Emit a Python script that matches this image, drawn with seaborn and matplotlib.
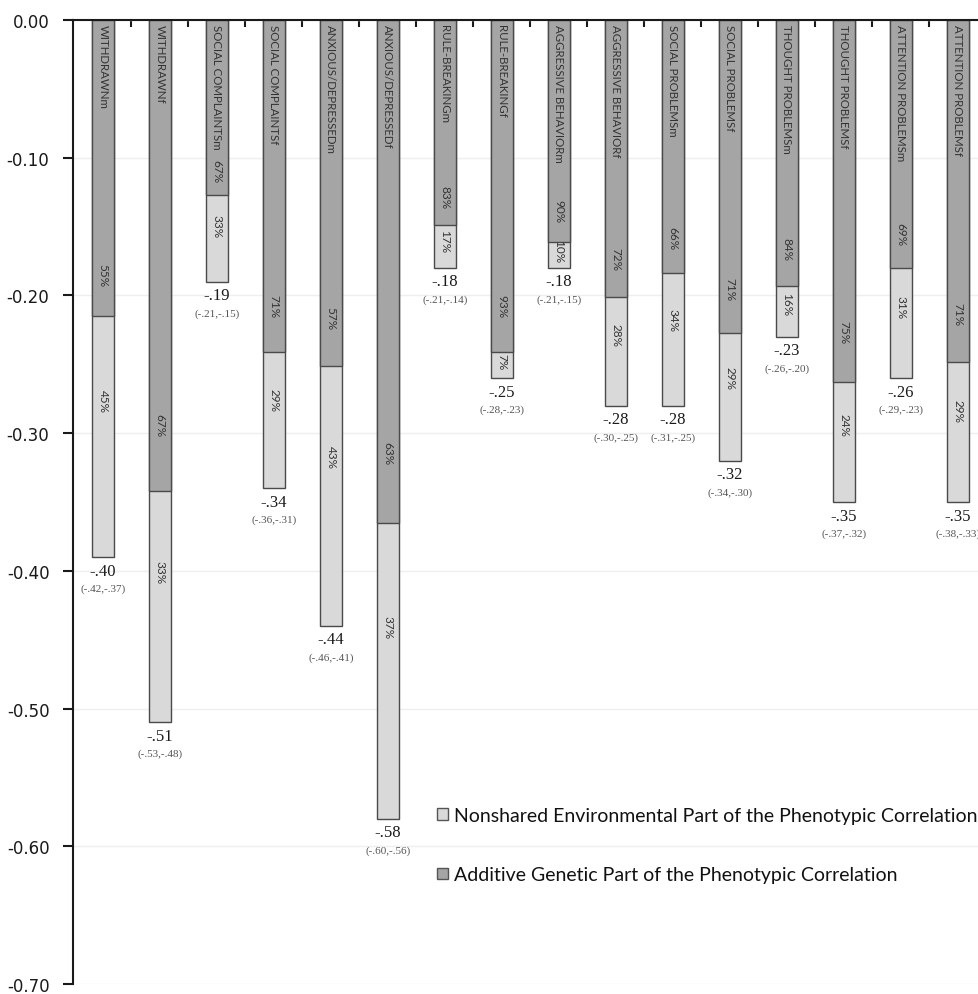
import numpy as np
import pandas as pd
import matplotlib
matplotlib.use("Agg")
import matplotlib.pyplot as plt
import seaborn as sns
from matplotlib.patches import Patch
from matplotlib.ticker import FormatStrFormatter

# values
categories = ["WITHDRAWNm", "WITHDRAWNf", "SOCIAL COMPLAINTSm", "SOCIAL COMPLAINTSf",
              "ANXIOUS/DEPRESSEDm", "ANXIOUS/DEPRESSEDf", "RULE-BREAKINGm", "RULE-BREAKINGf",
              "AGGRESSIVE BEHAVIORm", "AGGRESSIVE BEHAVIORf", "SOCIAL PROBLEMSm", "SOCIAL PROBLEMSf",
              "THOUGHT PROBLEMSm", "THOUGHT PROBLEMSf", "ATTENTION PROBLEMSm", "ATTENTION PROBLEMSf"]
total = [-0.39, -0.51, -0.19, -0.34, -0.44, -0.58, -0.18, -0.26,
         -0.18, -0.28, -0.28, -0.32, -0.23, -0.35, -0.26, -0.35]
genetic = [-0.215, -0.342, -0.127, -0.241, -0.251, -0.365, -0.149, -0.241,
           -0.161, -0.201, -0.184, -0.227, -0.193, -0.263, -0.180, -0.248]
gen_pct = [55, 67, 67, 71, 57, 63, 83, 93, 90, 72, 66, 71, 84, 75, 69, 71]
env_pct = [45, 33, 33, 29, 43, 37, 17, 7, 10, 28, 34, 29, 16, 24, 31, 29]
total_labels = ["-.40", "-.51", "-.19", "-.34", "-.44", "-.58", "-.18", "-.25",
                "-.18", "-.28", "-.28", "-.32", "-.23", "-.35", "-.26", "-.35"]
ci_labels = ["(-.42,-.37)", "(-.53,-.48)", "(-.21,-.15)", "(-.36,-.31)", "(-.46,-.41)",
             "(-.60,-.56)", "(-.21,-.14)", "(-.28,-.23)", "(-.21,-.15)", "(-.30,-.25)",
             "(-.31,-.25)", "(-.34,-.30)", "(-.26,-.20)", "(-.37,-.32)", "(-.29,-.23)",
             "(-.38,-.33)"]
yticks = [0.0, -0.1, -0.2, -0.3, -0.4, -0.5, -0.6, -0.7]

light = "#d9d9d9"
dark = "#a5a5a5"
edge = "#4a4a4a"

sns.set_theme(style="white")
plt.rcParams["font.family"] = ["DejaVu Sans"]
plt.rcParams["axes.unicode_minus"] = False

df = pd.DataFrame({"scale": categories, "total": total, "genetic": genetic})

fig = plt.figure(figsize=(9.79, 9.95), dpi=100)
ax = fig.add_axes([73 / 979, 10 / 995, 906 / 979, 964 / 995])

sns.barplot(data=df, x="scale", y="total", color=light, edgecolor=edge, linewidth=1,
            width=0.39, saturation=1, errorbar=None, ax=ax)
sns.barplot(data=df, x="scale", y="genetic", color=dark, edgecolor=edge, linewidth=1,
            width=0.39, saturation=1, errorbar=None, ax=ax)

for i, name in enumerate(categories):
    ax.annotate(name, (i, 0), xytext=(0, -3), textcoords="offset points",
                rotation=-90, ha="center", va="top", fontsize=8.3,
                family="Lato", color="#333333")
    ax.text(i, 0.86 * genetic[i], f"{gen_pct[i]}%", rotation=-90, ha="center",
            va="center", fontsize=8.5, family="Lato", color="#333333")
    ax.text(i, genetic[i] + 0.35 * (total[i] - genetic[i]), f"{env_pct[i]}%",
            rotation=-90, ha="center", va="center", fontsize=8.5, family="Lato",
            color="#333333")
    ax.annotate(total_labels[i], (i, total[i]), xytext=(0, -4), textcoords="offset points",
                ha="center", va="top", fontsize=12, family="Liberation Serif",
                color="#1a1a1a")
    ax.annotate(ci_labels[i], (i, total[i]), xytext=(0, -19), textcoords="offset points",
                ha="center", va="top", fontsize=8, family="Liberation Serif",
                color="#555555")

ax.set_xlim(-0.526, 15.37)
ax.set_ylim(-0.70, 0.0)
ax.set_xlabel("")
ax.set_ylabel("")

ax.xaxis.tick_top()
ax.set_xticks(np.arange(0.5, 15.5, 1.0))
ax.set_xticklabels([])
ax.tick_params(axis="x", direction="in", length=5, width=1.5, color="#1a1a1a")

ax.set_yticks(yticks)
ax.yaxis.set_major_formatter(FormatStrFormatter("%.2f"))
ax.tick_params(axis="y", direction="out", length=7, width=1.5, color="#1a1a1a",
               labelsize=12, labelcolor="#1a1a1a", pad=10, left=True)

ax.yaxis.grid(True, color="#efefef", linewidth=1)
ax.set_axisbelow(True)
for side in ["right", "bottom"]:
    ax.spines[side].set_visible(False)
for side in ["left", "top"]:
    ax.spines[side].set_color("#1a1a1a")
    ax.spines[side].set_linewidth(1.5)

handles = [Patch(facecolor=light, edgecolor="#555555", linewidth=1,
                 label="Nonshared Environmental Part of the Phenotypic Correlation"),
           Patch(facecolor=dark, edgecolor="#555555", linewidth=1,
                 label="Additive Genetic Part of the Phenotypic Correlation")]
leg = ax.legend(handles=handles, loc="center left", bbox_to_anchor=(437 / 979, 1 - 846 / 995),
                bbox_transform=fig.transFigure, frameon=False,
                prop={"family": "Lato", "size": 14}, handlelength=0.55, handleheight=0.55,
                handletextpad=0.35, labelspacing=2.2, borderpad=0, borderaxespad=0)
for t in leg.get_texts():
    t.set_color("#111111")

fig.savefig("out.png", dpi=100)
